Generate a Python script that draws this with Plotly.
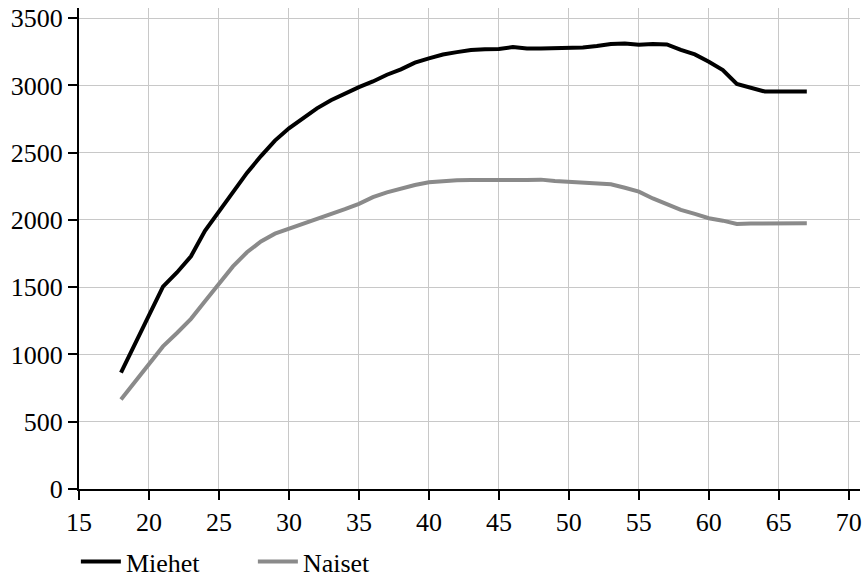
import plotly.graph_objects as go

ages = list(range(18, 68))
miehet = [866, 1080, 1300, 1505, 1610, 1730, 1920, 2060, 2210, 2350, 2475, 2590, 2682, 2760, 2830, 2890, 2940, 2988, 3030, 3080, 3120, 3170, 3202, 3230, 3248, 3264, 3270, 3272, 3286, 3275, 3275, 3278, 3284, 3282, 3293, 3309, 3312, 3302, 3309, 3305, 3264, 3231, 3177, 3115, 3012, 2984, 2955, 2955, 2955, 2955]
naiset = [665, 800, 935, 1060, 1160, 1265, 1395, 1530, 1655, 1760, 1840, 1898, 1935, 1970, 2001, 2040, 2080, 2120, 2170, 2205, 2236, 2260, 2280, 2290, 2296, 2298, 2300, 2300, 2298, 2298, 2300, 2290, 2283, 2278, 2272, 2266, 2240, 2211, 2160, 2120, 2075, 2045, 2013, 1995, 1971, 1973, 1975, 1975, 1975, 1975]

x_ticks = [15, 20, 25, 30, 35, 40, 45, 50, 55, 60, 65, 70]
y_ticks = [0, 500, 1000, 1500, 2000, 2500, 3000, 3500]

FONT = "Liberation Serif, Times New Roman, serif"

fig = go.Figure()
fig.add_trace(go.Scatter(x=ages, y=miehet, mode="lines", name="Miehet",
                         line=dict(color="#000000", width=4)))
fig.add_trace(go.Scatter(x=ages, y=naiset, mode="lines", name="Naiset",
                         line=dict(color="#8a8a8a", width=4)))

fig.update_layout(
    width=867, height=576,
    margin=dict(l=79, r=7, t=8, b=87, autoexpand=False),
    paper_bgcolor="white", plot_bgcolor="white",
    font=dict(family=FONT, size=26, color="black"),
    showlegend=True,
    legend=dict(orientation="h", x=-0.004, xanchor="left", y=-0.102, yanchor="top",
                font=dict(family=FONT, size=26, color="black"),
                entrywidth=122, entrywidthmode="pixels", itemwidth=40,
                bgcolor="rgba(0,0,0,0)"),
)
fig.update_xaxes(range=[15, 70.8], tickvals=x_ticks, showgrid=True, gridcolor="#c8c8c8", gridwidth=1.3,
                 showline=True, linecolor="black", linewidth=2, ticks="outside", ticklen=9,
                 tickcolor="black", tickwidth=1.5, zeroline=False, automargin=False,
                 tickfont=dict(family=FONT, size=26, color="black"))
fig.update_yaxes(range=[0, 3576], tickvals=y_ticks, showgrid=True, gridcolor="#c8c8c8", gridwidth=1.3,
                 showline=True, linecolor="black", linewidth=2, ticks="outside", ticklen=9,
                 tickcolor="black", tickwidth=1.5, zeroline=False, automargin=False,
                 tickfont=dict(family=FONT, size=26, color="black"))

fig.write_html("out.html", config={"displayModeBar": False},
               post_script="document.body.style.margin='0';document.body.style.overflow='hidden';")
